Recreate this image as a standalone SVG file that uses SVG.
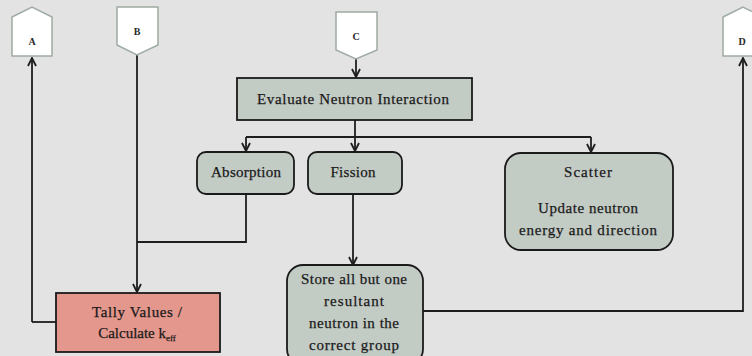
<svg xmlns="http://www.w3.org/2000/svg" width="752" height="356" viewBox="0 0 752 356">
<style>
.bg{fill:#e3e3e3}
.conn{fill:none;stroke:#1e1e1e;stroke-width:1.8}
.tag{fill:#ffffff;stroke:#9eaca3;stroke-width:1.5}
.box{fill:#c3cbc5;stroke:#1a1a1a;stroke-width:1.8}
.tally{fill:#e4978c;stroke:#1a1a1a;stroke-width:1.8}
text{font-family:'Liberation Serif','DejaVu Serif',serif}
.t{font-size:15px;fill:#1a1a1a;text-anchor:middle;stroke:#1a1a1a;stroke-width:0.25}
.lbl{font-size:10px;font-weight:bold;fill:#2a2a2a;text-anchor:middle}
</style>
<defs>
<marker id="arr" viewBox="0 0 10 10" refX="9" refY="5" markerWidth="10" markerHeight="10" markerUnits="userSpaceOnUse" orient="auto">
<path d="M1,1 L9,5 L1,9" fill="none" stroke="#1e1e1e" stroke-width="1.8"/>
</marker>
</defs>
<rect class="bg" x="0" y="0" width="752" height="356"/>

<g id="connectors">
<path class="conn" d="M32,322 L32,58" marker-end="url(#arr)"/>
<path class="conn" d="M56,322 L32,322"/>
<path class="conn" d="M137,55 L137,292" marker-end="url(#arr)"/>
<path class="conn" d="M356,59 L356,77" marker-end="url(#arr)"/>
<path class="conn" d="M355,120 L355,151" marker-end="url(#arr)"/>
<path class="conn" d="M246,137 L591,137"/>
<path class="conn" d="M246,137 L246,151" marker-end="url(#arr)"/>
<path class="conn" d="M591,137 L591,152" marker-end="url(#arr)"/>
<path class="conn" d="M246,194 L246,242 L137,242"/>
<path class="conn" d="M353,194 L353,265" marker-end="url(#arr)"/>
<path class="conn" d="M423,311 L743,311 L743,58" marker-end="url(#arr)"/>
</g>

<g id="A">
<path class="tag" d="M12,17 L32,7 L52,17 L52,56 L12,56 Z"/>
<text class="lbl" x="32" y="45">A</text>
</g>
<g id="B">
<path class="tag" d="M117,7 L158,7 L158,45 L137,55 L117,45 Z"/>
<text class="lbl" x="137" y="35">B</text>
</g>
<g id="C">
<path class="tag" d="M336,12 L377,12 L377,50 L356,59 L336,50 Z"/>
<text class="lbl" x="356" y="40">C</text>
</g>
<g id="D">
<path class="tag" d="M723,17 L743,7 L763,17 L763,56 L723,56 Z"/>
<text class="lbl" x="742" y="45">D</text>
</g>

<g id="evaluate">
<rect class="box" x="237" y="78" width="235" height="42"/>
<text class="t" x="353" y="104" textLength="192">Evaluate Neutron Interaction</text>
</g>
<g id="absorption">
<rect class="box" x="197" y="152" width="97" height="42" rx="9"/>
<text class="t" x="246" y="177" textLength="70">Absorption</text>
</g>
<g id="fission">
<rect class="box" x="308" y="152" width="94" height="42" rx="9"/>
<text class="t" x="353" y="177" textLength="45">Fission</text>
</g>
<g id="scatter">
<rect class="box" x="505" y="153" width="168" height="97" rx="16"/>
<text class="t" x="588" y="177" textLength="48">Scatter</text>
<text class="t" x="588" y="213" textLength="100">Update neutron</text>
<text class="t" x="588" y="235" textLength="138">energy and direction</text>
</g>
<g id="store">
<rect class="box" x="287" y="265" width="136" height="100" rx="16"/>
<text class="t" x="354" y="284" textLength="106">Store all but one</text>
<text class="t" x="354" y="306" textLength="60">resultant</text>
<text class="t" x="354" y="328" textLength="90">neutron in the</text>
<text class="t" x="354" y="350" textLength="90">correct group</text>
</g>
<g id="tally">
<rect class="tally" x="56" y="293" width="164" height="59"/>
<text class="t" x="137" y="317" textLength="90">Tally Values /</text>
<text class="t" x="137" y="338">Calculate k<tspan font-size="9" dy="3">eff</tspan></text>
</g>
</svg>
